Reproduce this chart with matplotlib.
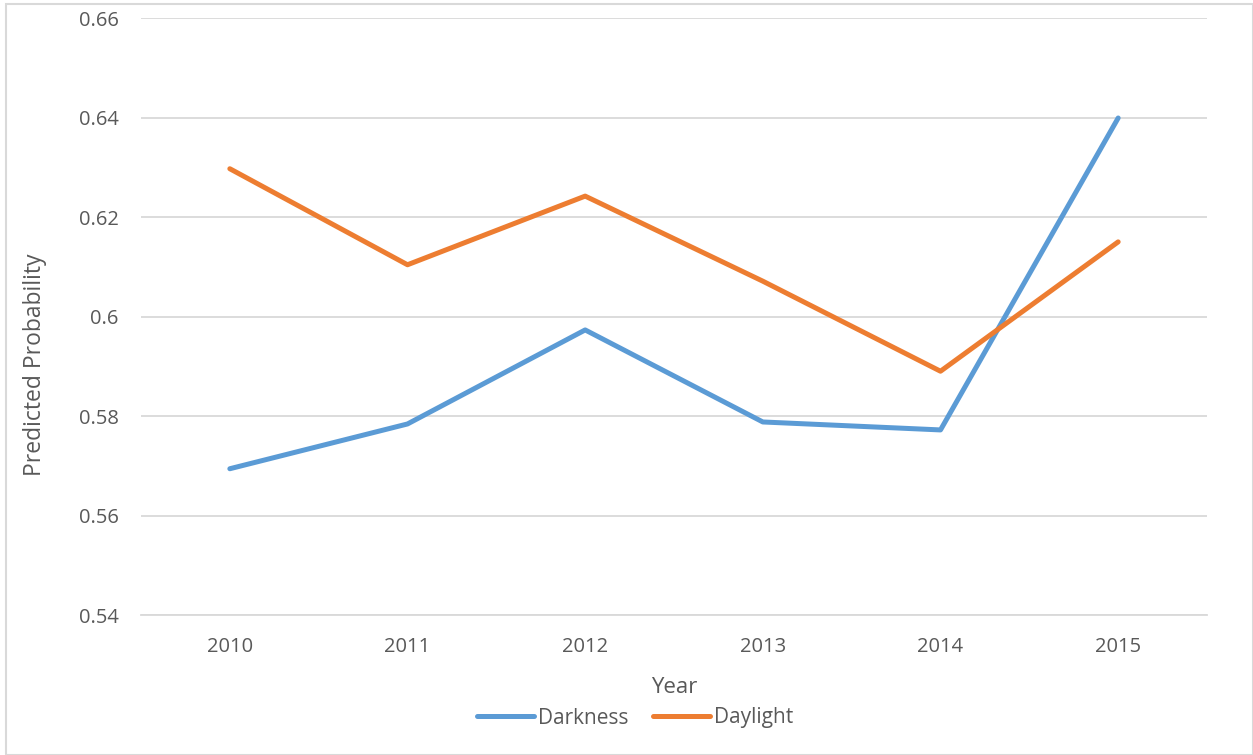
#!/usr/bin/env python3
"""Predicted probability by year: darkness vs daylight."""

import matplotlib.pyplot as plt
from matplotlib.patches import Rectangle

years = ["2010", "2011", "2012", "2013", "2014", "2015"]
darkness = [0.5694, 0.5784, 0.5973, 0.5788, 0.5772, 0.6399]
daylight = [0.6297, 0.6104, 0.6242, 0.6071, 0.5890, 0.6150]
y_ticks = [0.54, 0.56, 0.58, 0.6, 0.62, 0.64, 0.66]
y_tick_labels = ["0.54", "0.56", "0.58", "0.6", "0.62", "0.64", "0.66"]

TEXT = "#595959"
GRID = "#D9D9D9"


def main():
    plt.rcParams["font.family"] = ["Open Sans", "DejaVu Sans"]
    fig = plt.figure(figsize=(12.53, 7.55), dpi=100)
    W, H = 1253, 755
    ax = fig.add_axes([141 / W, 1 - 615 / H, (1207 - 141) / W, (615 - 18) / H])

    x = list(range(len(years)))
    ax.plot(x, darkness, color="#5B9BD5", lw=3.6, solid_capstyle="round",
            solid_joinstyle="round", label="Darkness")
    ax.plot(x, daylight, color="#ED7D31", lw=3.6, solid_capstyle="round",
            solid_joinstyle="round", label="Daylight")

    ax.set_xlim(-0.5, len(years) - 0.5)
    ax.set_ylim(0.54, 0.66)
    ax.set_xticks(x, years)
    ax.set_yticks(y_ticks, y_tick_labels)
    ax.tick_params(length=0, labelsize=14.5, colors=TEXT)
    ax.tick_params(axis="x", pad=16)
    ax.tick_params(axis="y", pad=16)
    ax.grid(axis="y", color=GRID, lw=1.3)
    ax.set_axisbelow(True)
    for side in ["top", "right", "left"]:
        ax.spines[side].set_visible(False)
    ax.spines["bottom"].set_color(GRID)
    ax.spines["bottom"].set_linewidth(1.3)

    ax.set_xlabel("Year", fontsize=16, color=TEXT, labelpad=14)
    ax.set_ylabel("Predicted Probability", fontsize=16.5, color=TEXT,
                  va="center")
    # label sits a bit below the axes middle in the original
    ax.yaxis.set_label_coords(-0.0994, 0.419)

    ax.legend(loc="center", bbox_to_anchor=(0.507, 1 - 718 / H),
              bbox_transform=fig.transFigure, ncol=2, frameon=False,
              fontsize=15, labelcolor=TEXT, handlelength=2.7,
              handletextpad=0.2, columnspacing=1.2)

    fig.patches.append(Rectangle((6 / W, 0), 1 - 6 / W, 1 - 4 / H,
                                 transform=fig.transFigure, fill=False,
                                 edgecolor=GRID, lw=1.5))
    fig.savefig("out.png", dpi=100)


if __name__ == "__main__":
    main()
